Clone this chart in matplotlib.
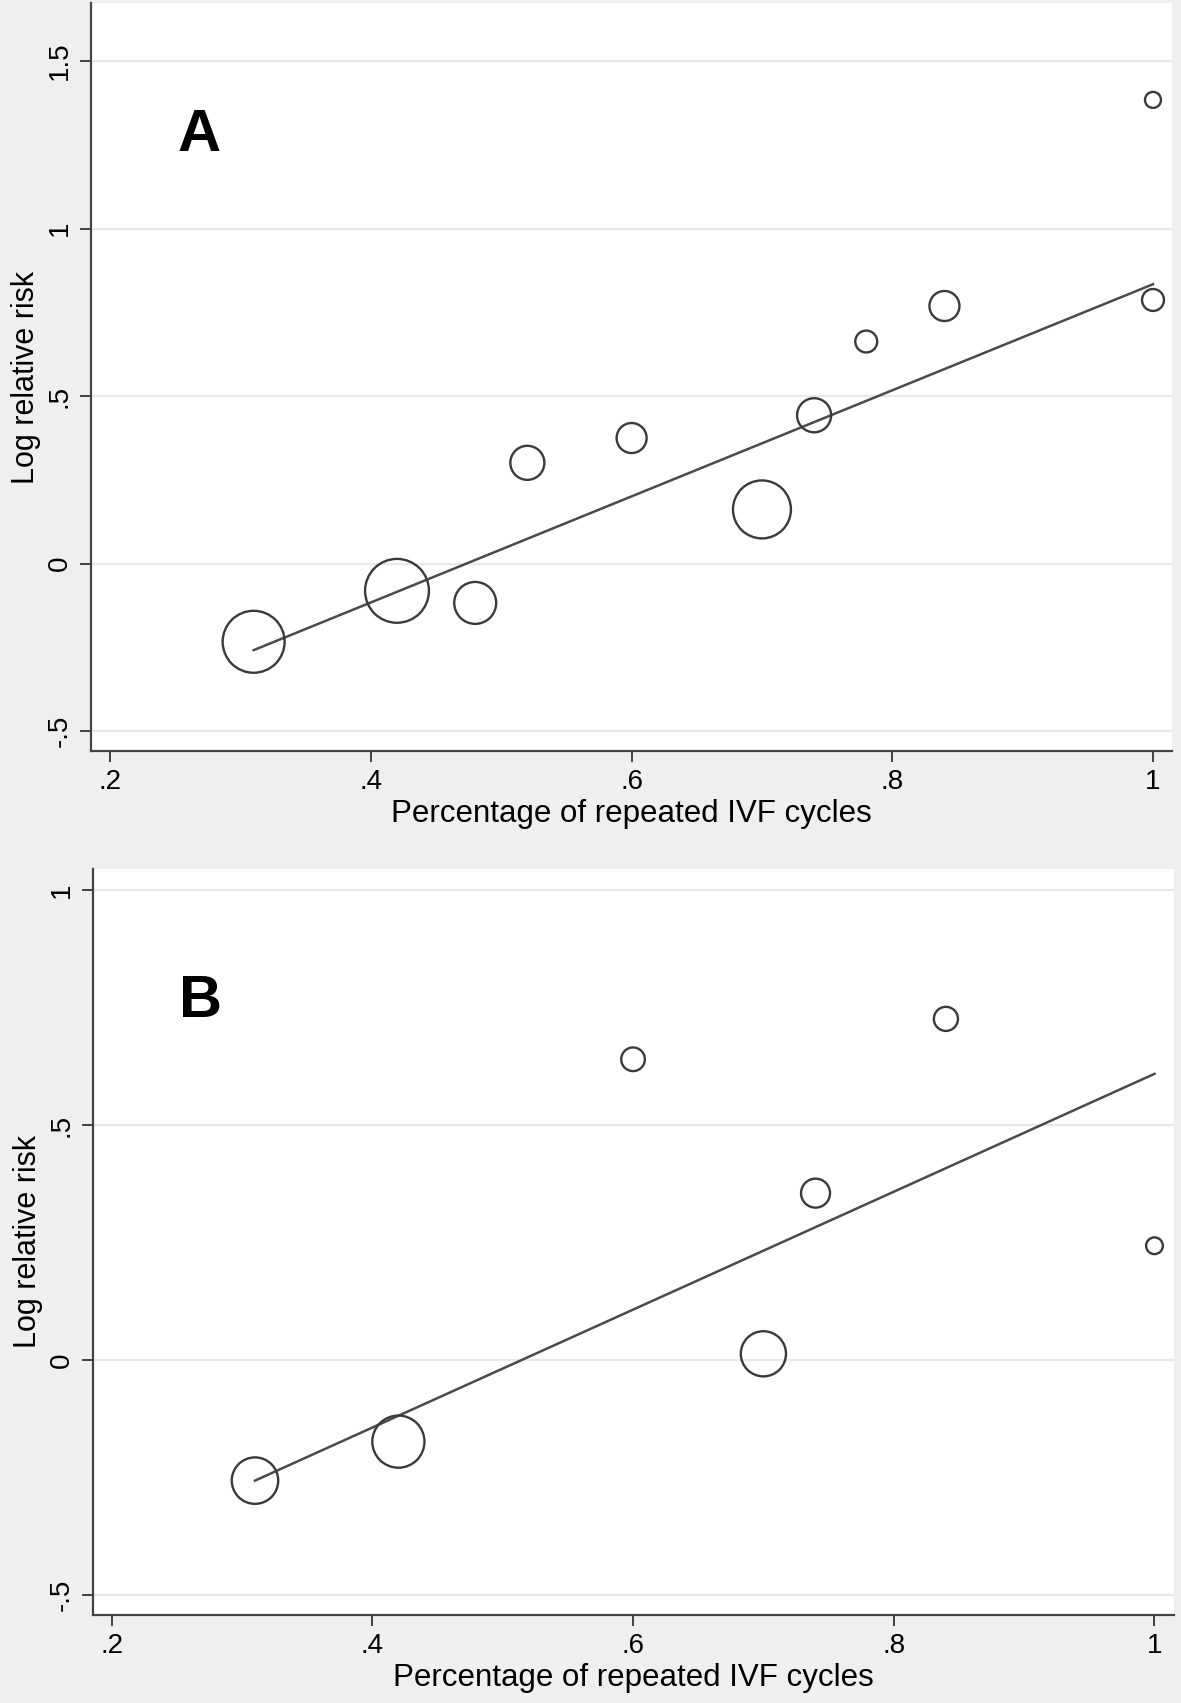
import numpy as np
import matplotlib
matplotlib.use("Agg")
import matplotlib.pyplot as plt

plt.rcParams['font.family'] = ['Liberation Sans', 'DejaVu Sans']

# -------------------------------
# Data
# -------------------------------
# Panel A
a_x = [0.31, 0.42, 0.48, 0.52, 0.60, 0.70, 0.74, 0.78, 0.84, 1.00, 1.00]
a_y = [-0.233, -0.081, -0.117, 0.301, 0.375, 0.162, 0.443, 0.663, 0.769, 0.787, 1.384]
a_w = [9.6, 10.2, 4.4, 2.9, 2.25, 8.4, 2.9, 1.2, 2.25, 1.2, 0.64]   # relative study weights
a_fit_x = [0.31, 1.00]
a_fit_y = [-0.258, 0.834]

# Panel B
b_x = [0.31, 0.42, 0.60, 0.70, 0.74, 0.84, 1.00]
b_y = [-0.257, -0.174, 0.640, 0.013, 0.355, 0.726, 0.243]
b_w = [5.4, 6.8, 1.4, 5.1, 2.1, 1.45, 0.7]
b_fit_x = [0.31, 1.00]
b_fit_y = [-0.257, 0.609]

x_ticks = [0.2, 0.4, 0.6, 0.8, 1.0]
x_ticklabels = ['.2', '.4', '.6', '.8', '1']
a_yticks = [-0.5, 0, 0.5, 1, 1.5]
a_yticklabels = ['-.5', '0', '.5', '1', '1.5']
b_yticks = [-0.5, 0, 0.5, 1]
b_yticklabels = ['-.5', '0', '.5', '1']

xlabel = "Percentage of repeated IVF cycles"
ylabel = "Log relative risk"

DPI = 100
fig = plt.figure(figsize=(11.81, 17.03), dpi=DPI, facecolor='#efefef')


def marker_area(w):
    # radius in px = 10*sqrt(w); scatter wants (diameter in points)^2
    diam_pt = 2 * 10 * np.sqrt(np.array(w)) * 72 / DPI
    return diam_pt ** 2


def draw_panel(ax, x, y, w, fx, fy, yticks, yticklabels, xlim, ylim, letter, letter_pos):
    ax.set_facecolor('white')
    for yt in yticks:
        ax.axhline(yt, color='#e8e8e8', lw=1.6, zorder=0)
    ax.plot(fx, fy, color='#4a4a4a', lw=1.8, zorder=2)
    ax.scatter(x, y, s=marker_area(w), facecolors='none', edgecolors='#3a3a3a',
               linewidths=1.7, zorder=3, clip_on=False)
    ax.set_xlim(*xlim)
    ax.set_ylim(*ylim)
    ax.set_xticks(x_ticks)
    ax.set_xticklabels(x_ticklabels)
    ax.set_yticks(yticks)
    ax.set_yticklabels(yticklabels, rotation=90, va='center')
    ax.tick_params(axis='both', direction='out', length=8, width=1.3,
                   color='#333333', labelsize=20, labelcolor='black')
    ax.tick_params(axis='y', pad=5)
    ax.tick_params(axis='x', pad=5)
    for s in ['top', 'right']:
        ax.spines[s].set_visible(False)
    for s in ['left', 'bottom']:
        ax.spines[s].set_color('#444444')
        ax.spines[s].set_linewidth(1.6)
    ax.set_xlabel(xlabel, fontsize=22.5, labelpad=3)
    ax.set_ylabel(ylabel, fontsize=22, labelpad=4)
    ax.text(letter_pos[0], letter_pos[1], letter, fontsize=43, fontweight='bold',
            ha='center', va='center')


ax1 = fig.add_axes([0.0768, 0.559, 0.9156, 0.4392])
draw_panel(ax1, a_x, a_y, a_w, a_fit_x, a_fit_y, a_yticks, a_yticklabels,
           (0.185, 1.0146), (-0.559, 1.673), 'A', (0.268, 1.279))

ax2 = fig.add_axes([0.0787, 0.0517, 0.9153, 0.438])
draw_panel(ax2, b_x, b_y, b_w, b_fit_x, b_fit_y, b_yticks, b_yticklabels,
           (0.1857, 1.0149), (-0.543, 1.045), 'B', (0.268, 0.762))

fig.savefig("out.png", dpi=DPI, facecolor=fig.get_facecolor())
